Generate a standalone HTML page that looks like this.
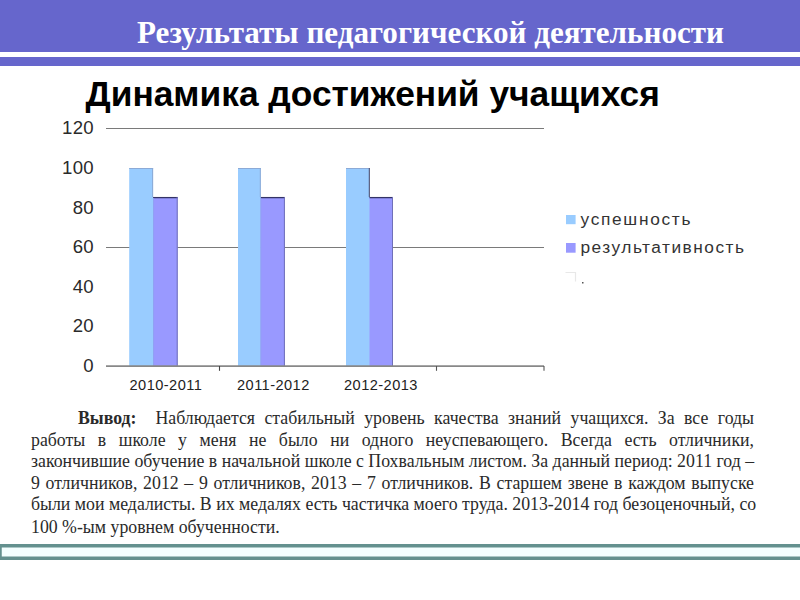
<!DOCTYPE html>
<html><head><meta charset="utf-8">
<style>
html,body{margin:0;padding:0;background:#fff;width:800px;height:600px;overflow:hidden;position:relative;}
.abs{position:absolute;}
#hdr{left:0;top:0;width:800px;height:52px;background:#6666CC;}
#hdr2{left:0;top:57px;width:800px;height:9px;background:#6666CC;}
#title{left:137px;top:15px;font-family:"Liberation Serif",serif;font-weight:bold;font-size:31.1px;color:#fff;white-space:nowrap;line-height:36px;}
#sub{left:85.5px;top:74px;font-family:"Liberation Sans",sans-serif;font-weight:bold;font-size:35.35px;color:#000;white-space:nowrap;line-height:40px;}
.yl{font-family:"Liberation Sans",sans-serif;font-size:18.6px;letter-spacing:0.3px;color:#2a2a2a;text-align:right;width:60px;left:34px;line-height:20px;}
.xl{font-family:"Liberation Sans",sans-serif;font-size:14.6px;letter-spacing:0.45px;color:#222;white-space:nowrap;line-height:16px;top:376.6px;}
.leg{font-family:"Liberation Sans",sans-serif;font-size:17.3px;color:#333;white-space:nowrap;line-height:20px;}
#body{left:31px;top:407.8px;width:723px;font-family:"Liberation Serif",serif;font-size:17.8px;color:#2a2a2a;line-height:21.84px;}
#body div{height:21.84px;white-space:normal;text-align:justify;text-align-last:justify;}
</style></head><body>
<div class="abs" id="hdr"></div>
<div class="abs" id="hdr2"></div>
<div class="abs" id="title">Результаты педагогической деятельности</div>
<div class="abs" id="sub">Динамика достижений учащихся</div>

<svg class="abs" style="left:0;top:0" width="800" height="600">
  <line x1="106" y1="128.5" x2="544" y2="128.5" stroke="#7a7a7a" stroke-width="1.2"/>
  <line x1="106" y1="247.5" x2="544" y2="247.5" stroke="#7a7a7a" stroke-width="1.2"/>
  <rect x="152.5" y="197" width="25.2" height="169" fill="#9999FF"/>
  <rect x="260.2" y="197" width="24.7" height="169" fill="#9999FF"/>
  <rect x="368.9" y="197" width="24.1" height="169" fill="#9999FF"/>
  <rect x="129.2" y="168" width="23.9" height="198" fill="#99CCFF"/>
  <rect x="238" y="168" width="22.8" height="198" fill="#99CCFF"/>
  <rect x="346" y="168" width="23.5" height="198" fill="#99CCFF"/>
  <line x1="129.2" y1="168.5" x2="153.1" y2="168.5" stroke="#8CAAD6" stroke-width="1"/>
  <line x1="238" y1="168.5" x2="260.8" y2="168.5" stroke="#8CAAD6" stroke-width="1"/>
  <line x1="346" y1="168.5" x2="369.5" y2="168.5" stroke="#8CAAD6" stroke-width="1"/>
  <line x1="152.6" y1="168" x2="152.6" y2="197" stroke="#8CAAD6" stroke-width="1"/>
  <line x1="260.3" y1="168" x2="260.3" y2="197" stroke="#8CAAD6" stroke-width="1"/>
  <line x1="153.1" y1="197.6" x2="177.7" y2="197.6" stroke="#333366" stroke-width="1.3"/>
  <line x1="260.8" y1="197.6" x2="284.9" y2="197.6" stroke="#333366" stroke-width="1.3"/>
  <line x1="369.5" y1="197.6" x2="393" y2="197.6" stroke="#333366" stroke-width="1.3"/>
  <line x1="153.6" y1="198" x2="153.6" y2="366" stroke="#90A2F2" stroke-width="1"/>
  <line x1="260.8" y1="198" x2="260.8" y2="366" stroke="#90A2F2" stroke-width="1"/>
  <line x1="177.2" y1="197" x2="177.2" y2="366" stroke="#7070B8" stroke-width="1"/>
  <line x1="284.4" y1="197" x2="284.4" y2="366" stroke="#7070B8" stroke-width="1"/>
  <line x1="392.5" y1="197" x2="392.5" y2="366" stroke="#7070B8" stroke-width="1"/>
  <line x1="369.3" y1="168" x2="369.3" y2="197" stroke="#444466" stroke-width="1"/>
  <line x1="106" y1="366.1" x2="544" y2="366.1" stroke="#888" stroke-width="1.6"/>
  <line x1="219.5" y1="366" x2="219.5" y2="370.8" stroke="#444" stroke-width="1.1"/>
  <line x1="436.5" y1="366" x2="436.5" y2="370.8" stroke="#555" stroke-width="1.1"/>
  <line x1="544" y1="366" x2="544" y2="370.8" stroke="#555" stroke-width="1.1"/>
  <rect x="566" y="215" width="9.6" height="9.2" fill="#99CCFF"/>
  <rect x="566" y="243" width="9.6" height="9.7" fill="#9999FF"/>
  <path d="M565.5 272.5 H575.5 V281.5" fill="none" stroke="#e8e8e8" stroke-width="1.2"/>
  <rect x="582" y="282" width="1.5" height="1.5" fill="#555"/>
  <rect x="0" y="545.75" width="830" height="12.5" fill="#F4FFFF" stroke="#64918F" stroke-width="3.5"/>
</svg>
<div class="abs yl" style="top:118.4px">120</div>
<div class="abs yl" style="top:158px">100</div>
<div class="abs yl" style="top:197.6px">80</div>
<div class="abs yl" style="top:237.2px">60</div>
<div class="abs yl" style="top:276.8px">40</div>
<div class="abs yl" style="top:316.4px">20</div>
<div class="abs yl" style="top:356px">0</div>
<div class="abs xl" style="left:129.5px">2010-2011</div>
<div class="abs xl" style="left:237px">2011-2012</div>
<div class="abs xl" style="left:344px">2012-2013</div>
<div class="abs leg" style="left:580.5px;top:209.3px;letter-spacing:1.7px">успешность</div>
<div class="abs leg" style="left:580.5px;top:237.2px;letter-spacing:1.5px">результативность</div>

<div class="abs" id="body">
<div style="position:relative"><b style="position:absolute;left:47px;top:0">Вывод:</b><div style="margin-left:124.5px">Наблюдается стабильный уровень качества знаний учащихся. За все годы</div></div>
<div>работы в школе у меня не было ни одного неуспевающего. Всегда есть отличники,</div>
<div style="white-space:nowrap;text-align:left;text-align-last:left">закончившие обучение в начальной школе с Похвальным листом. За данный период: 2011 год –</div>
<div>9 отличников, 2012 – 9 отличников, 2013 – 7 отличников.  В старшем звене в каждом выпуске</div>
<div style="position:relative;top:-1px;white-space:nowrap;text-align:left;text-align-last:left">были мои медалисты. В их медалях есть частичка моего труда. 2013-2014 год безоценочный, со</div>
<div style="text-align:left;text-align-last:left">100 %-ым уровнем обученности.</div>
</div>
</body></html>
